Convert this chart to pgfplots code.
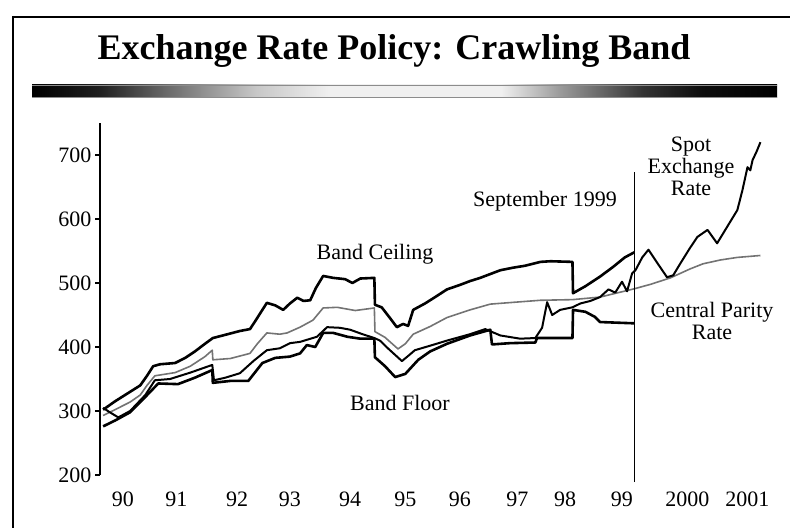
\documentclass[border=0pt]{standalone}
\usepackage{pgfplots}
\pgfplotsset{compat=1.18}
\usepackage{fontspec}
\setmainfont{Liberation Serif}

% black - white - black bar under the title (tikz maps the path onto 25bp..75bp)
\pgfdeclarehorizontalshading{titlebar}{100bp}{color(0bp)=(black); color(25bp)=(black); color(29.5bp)=(black!88); color(33.5bp)=(black!62); color(40bp)=(black!22); color(45bp)=(black!6); color(56.5bp)=(black!6); color(60.5bp)=(black!40); color(66bp)=(black!80); color(70bp)=(black!95); color(75bp)=(black); color(100bp)=(black)}

\begin{document}
\begin{tikzpicture}[x=1pt,y=1pt]
\path[use as bounding box] (0,0) rectangle (790,528);

% page frame
\draw[line width=2pt] (12,511) -- (790,511);
\draw[line width=2.6pt] (13,512) -- (13,0);

\node[anchor=base, font=\bfseries\fontsize{36}{40}\selectfont] at (394,468) {Exchange Rate Policy: Crawling Band};
\shade[shading=titlebar] (32,430) rectangle (777,443);
\draw[black!45, line width=0.8pt] (32,442.6) -- (777,442.6);
\draw[black!45, line width=0.8pt] (32,430.4) -- (777,430.4);

\begin{axis}[
  at={(100pt,53pt)}, anchor=south west,
  scale only axis, width=670pt, height=352pt,
  xmin=1990.105, xmax=2002.01, ymin=200, ymax=750,
  axis lines*=left,
  x axis line style={draw=none},
  y axis line style={line width=1.5pt},
  xtick={1990.51,1991.46,1992.54,1993.48,1994.55,1995.53,1996.50,1997.52,1998.37,1999.38,2000.54,2001.61},
  xticklabels={90,91,92,93,94,95,96,97,98,99,2000,2001},
  xtick style={draw=none},
  ytick={200,300,400,500,600,700},
  tick align=outside,
  major tick length=5pt,
  ytick style={line width=1.3pt, black},
  tick label style={font=\fontsize{22}{24}\selectfont},
  /pgf/number format/assume math mode=true,
  xticklabel style={yshift=-8pt},
  clip=false,
  line join=round,
]

% Band ceiling
\addplot[black, line width=2.6pt] table {
1990.16 302
1990.37 315
1990.64 330
1990.82 340
1990.94 355
1991.05 370
1991.17 373
1991.44 375
1991.62 383
1991.79 393
1991.97 405
1992.11 414
1992.33 419
1992.59 425
1992.77 428
1992.86 440
1992.99 458
1993.07 469
1993.22 465
1993.36 458
1993.48 468
1993.61 477
1993.72 472
1993.84 473
1993.94 492
1994.07 511
1994.25 508
1994.46 506
1994.59 500
1994.73 507
1994.98 508
1994.99 466
1995.11 462
1995.26 445
1995.38 431
1995.49 436
1995.58 433
1995.67 458
1995.88 468
1996.06 478
1996.27 490
1996.50 497
1996.68 503
1996.86 508
1997.07 515
1997.22 520
1997.45 524
1997.66 527
1997.93 533
1998.11 534
1998.50 533
1998.51 484
1998.73 495
1998.99 510
1999.22 525
1999.43 540
1999.60 548
};

% Central parity rate
\addplot[black!55, line width=1.6pt] table {
1990.16 293
1990.37 302
1990.64 314
1990.82 325
1990.94 340
1991.08 355
1991.44 360
1991.71 370
1991.97 385
1992.10 395
1992.11 380
1992.42 382
1992.77 390
1992.90 405
1993.07 422
1993.30 420
1993.43 422
1993.66 431
1993.89 442
1994.07 461
1994.32 462
1994.64 457
1994.98 461
1994.99 424
1995.17 415
1995.40 397
1995.53 405
1995.67 420
1995.97 432
1996.27 446
1996.68 458
1997.04 467
1997.48 470
1997.93 473
1998.50 474
1998.99 478
1999.60 491
1999.89 498
2000.24 508
2000.59 522
2000.82 530
2001.13 536
2001.43 540
2001.84 543
};

% Band floor
\addplot[black, line width=2.6pt] table {
1990.16 276
1990.37 285
1990.64 298
1990.91 322
1991.14 343
1991.49 342
1991.79 352
1992.10 364
1992.11 344
1992.42 347
1992.74 347
1992.99 375
1993.22 383
1993.48 385
1993.66 390
1993.78 403
1993.93 400
1994.07 422
1994.25 422
1994.50 416
1994.73 413
1994.98 413
1994.99 384
1995.17 370
1995.35 353
1995.53 358
1995.76 380
1995.97 393
1996.27 405
1996.68 418
1997.04 427
1997.07 404
1997.39 406
1997.84 407
1997.87 414
1998.50 414
1998.51 458
1998.73 455
1998.90 447
1998.99 439
1999.60 437
};

% Spot exchange rate
\addplot[black, line width=2pt] table {
1990.16 305
1990.28 298
1990.43 290
1990.64 300
1990.91 325
1991.08 348
1991.35 350
1991.71 360
1991.97 368
1992.10 372
1992.13 348
1992.33 352
1992.59 359
1992.83 378
1993.07 395
1993.30 398
1993.48 406
1993.66 408
1993.96 416
1994.14 431
1994.37 430
1994.55 427
1994.77 420
1994.98 414
1995.08 410
1995.22 398
1995.47 378
1995.58 386
1995.70 395
1995.97 402
1996.27 410
1996.68 420
1996.95 428
1997.22 418
1997.57 413
1997.84 414
1997.96 430
1998.05 470
1998.14 450
1998.28 458
1998.50 462
1998.64 468
1998.82 472
1998.99 478
1999.14 490
1999.26 485
1999.38 502
1999.47 487
1999.56 515
1999.62 520
1999.74 540
1999.85 552
2000.01 531
2000.18 509
2000.29 512
2000.42 531
2000.59 555
2000.72 572
2000.90 583
2001.07 562
2001.16 575
2001.25 588
2001.43 614
2001.52 645
2001.61 681
2001.66 676
2001.70 692
2001.77 705
2001.84 720
};

% September 1999 marker
\draw[line width=1.5pt] (axis cs:1999.60,189) -- (axis cs:1999.60,673);
\end{axis}

\begin{scope}[every node/.style={font=\fontsize{22}{24}\selectfont, anchor=base, inner sep=0pt}]
\node at (375,268) {Band Ceiling};
\node at (400,118) {Band Floor};
\node at (545,321) {September 1999};
\node at (691,376) {Spot};
\node at (691,354) {Exchange};
\node at (691,332) {Rate};
\node at (712,210) {Central Parity};
\node at (712,188) {Rate};
\end{scope}
\end{tikzpicture}
\end{document}
